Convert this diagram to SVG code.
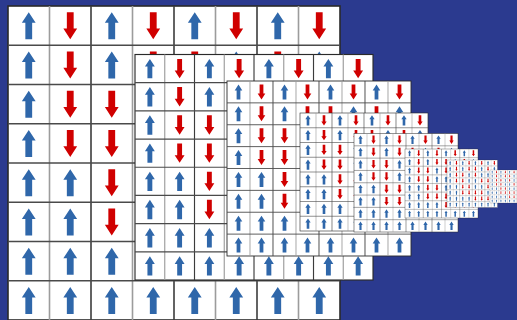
<svg xmlns="http://www.w3.org/2000/svg" xmlns:xlink="http://www.w3.org/1999/xlink" width="517" height="320" viewBox="0 0 517 320">
<style>
.bg{fill:#2b3a8f}
.cell{fill:#ffffff;stroke:#2a2a2a;stroke-width:1.6}
.vl{stroke:#9c9c9c;stroke-width:1.6}
.vd{stroke:#3c3c3c;stroke-width:1.6}
.hl{stroke:#4a4a4a;stroke-width:1.6}
.u{fill:#2f67aa}
.d{fill:#d00000}
</style>
<defs>
<path id="up" class="u" d="M0,-13.5 L6.9,-2.8 L3.4,-2.8 L3.4,13.5 L-3.4,13.5 L-3.4,-2.8 L-6.9,-2.8 Z"/>
<path id="dn" class="d" d="M0,13.5 L6.9,2.8 L3.4,2.8 L3.4,-13.5 L-3.4,-13.5 L-3.4,2.8 L-6.9,2.8 Z"/>
<g id="row0"><use href="#up" x="20.75"/><use href="#dn" x="62.25"/><use href="#up" x="103.75"/><use href="#dn" x="145.25"/><use href="#up" x="186.75"/><use href="#dn" x="228.25"/><use href="#up" x="269.75"/><use href="#dn" x="311.25"/></g>
<g id="row1"><use href="#up" x="20.75"/><use href="#dn" x="62.25"/><use href="#up" x="103.75"/><use href="#dn" x="145.25"/><use href="#dn" x="186.75"/><use href="#up" x="228.25"/><use href="#dn" x="269.75"/><use href="#up" x="311.25"/></g>
<g id="row2"><use href="#up" x="20.75"/><use href="#dn" x="62.25"/><use href="#dn" x="103.75"/><use href="#up" x="145.25"/><use href="#dn" x="186.75"/><use href="#up" x="228.25"/><use href="#up" x="269.75"/><use href="#dn" x="311.25"/></g>
<g id="row3"><use href="#up" x="20.75"/><use href="#dn" x="62.25"/><use href="#dn" x="103.75"/><use href="#up" x="145.25"/><use href="#up" x="186.75"/><use href="#dn" x="228.25"/><use href="#dn" x="269.75"/><use href="#up" x="311.25"/></g>
<g id="row4"><use href="#up" x="20.75"/><use href="#up" x="62.25"/><use href="#dn" x="103.75"/><use href="#dn" x="145.25"/><use href="#up" x="186.75"/><use href="#up" x="228.25"/><use href="#dn" x="269.75"/><use href="#dn" x="311.25"/></g>
<g id="row5"><use href="#up" x="20.75"/><use href="#up" x="62.25"/><use href="#dn" x="103.75"/><use href="#dn" x="145.25"/><use href="#dn" x="186.75"/><use href="#dn" x="228.25"/><use href="#up" x="269.75"/><use href="#up" x="311.25"/></g>
<g id="row6"><use href="#up" x="20.75"/><use href="#up" x="62.25"/><use href="#up" x="103.75"/><use href="#up" x="145.25"/><use href="#dn" x="186.75"/><use href="#dn" x="228.25"/><use href="#dn" x="269.75"/><use href="#dn" x="311.25"/></g>
<g id="row7"><use href="#up" x="20.75"/><use href="#up" x="62.25"/><use href="#up" x="103.75"/><use href="#up" x="145.25"/><use href="#up" x="186.75"/><use href="#up" x="228.25"/><use href="#up" x="269.75"/><use href="#up" x="311.25"/></g>
<g id="grid">
<rect class="cell" x="0" y="0" width="332" height="314"/>
<line class="vl" x1="41.5" y1="0" x2="41.5" y2="314"/>
<line class="vd" x1="83" y1="0" x2="83" y2="314"/>
<line class="vl" x1="124.5" y1="0" x2="124.5" y2="314"/>
<line class="vd" x1="166" y1="0" x2="166" y2="314"/>
<line class="vl" x1="207.5" y1="0" x2="207.5" y2="314"/>
<line class="vd" x1="249" y1="0" x2="249" y2="314"/>
<line class="vl" x1="290.5" y1="0" x2="290.5" y2="314"/>
<line class="hl" x1="0" y1="39.25" x2="332" y2="39.25"/>
<line class="hl" x1="0" y1="78.5" x2="332" y2="78.5"/>
<line class="hl" x1="0" y1="117.75" x2="332" y2="117.75"/>
<line class="hl" x1="0" y1="157" x2="332" y2="157"/>
<line class="hl" x1="0" y1="196.25" x2="332" y2="196.25"/>
<line class="hl" x1="0" y1="235.5" x2="332" y2="235.5"/>
<line class="hl" x1="0" y1="274.75" x2="332" y2="274.75"/>
<use href="#row0" y="19.625"/>
<use href="#row1" y="58.875"/>
<use href="#row2" y="98.125"/>
<use href="#row3" y="137.375"/>
<use href="#row4" y="176.625"/>
<use href="#row5" y="215.875"/>
<use href="#row6" y="255.125"/>
<use href="#row7" y="294.375"/>
</g>
</defs>
<rect class="bg" x="0" y="0" width="517" height="320"/>
<g id="grid1" transform="translate(8,6)"><use href="#grid"/></g>
<g id="grid2" transform="translate(135,54.5) scale(0.7169,0.7182)"><use href="#grid"/></g>
<g id="grid3" transform="translate(227,81) scale(0.5542,0.5573)"><use href="#grid"/></g>
<g id="grid4" transform="translate(300,113) scale(0.3855,0.3758)"><use href="#grid"/></g>
<g id="grid5" transform="translate(354,133.5) scale(0.3133,0.3137)"><use href="#grid"/></g>
<g id="grid6" transform="translate(405,149) scale(0.2199,0.2197)"><use href="#grid"/></g>
<g id="grid7" transform="translate(447,160) scale(0.1521,0.1513)"><use href="#grid"/></g>
<g id="grid8" transform="translate(490,170) scale(0.1054,0.1051)"><use href="#grid"/></g>
<g id="connectors"/>
</svg>
